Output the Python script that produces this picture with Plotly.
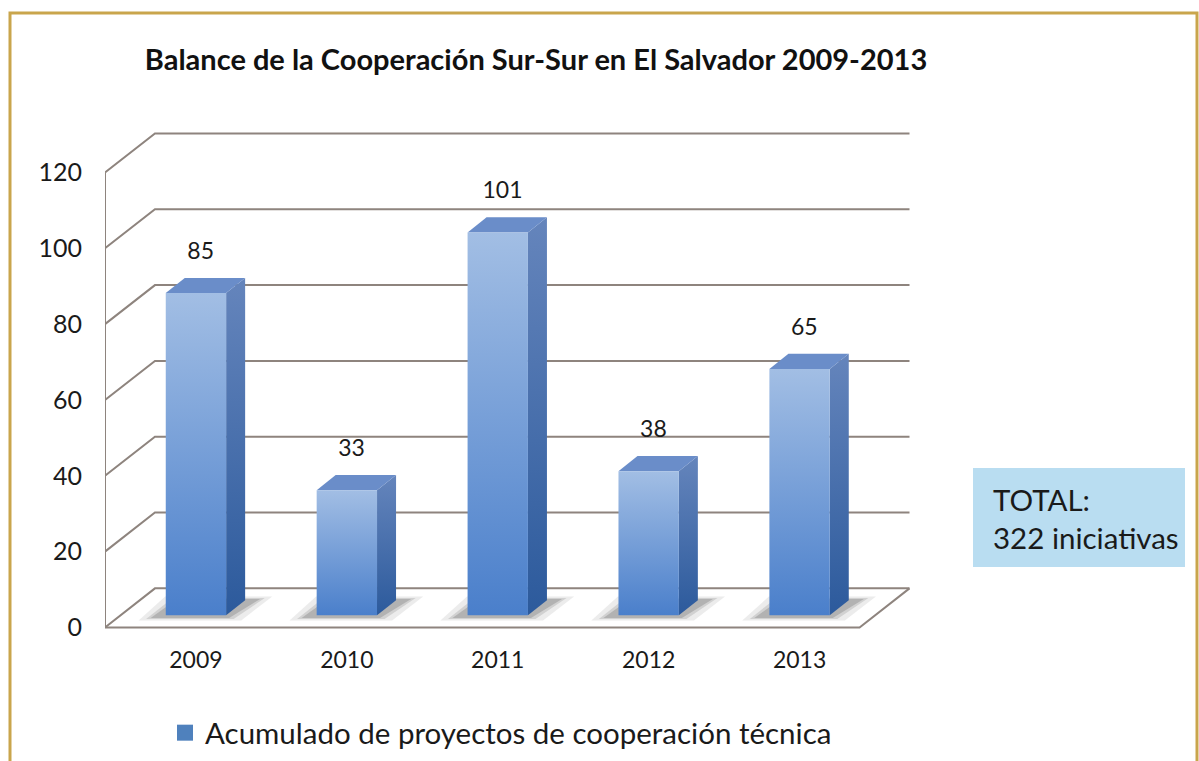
import plotly.graph_objects as go

# ---------------- data ----------------
years = ["2009", "2010", "2011", "2012", "2013"]
values = [85, 33, 101, 38, 65]
y_ticks = [0, 20, 40, 60, 80, 100, 120]
title_text = "Balance de la Cooperación Sur-Sur en El Salvador 2009-2013"
series_name = "Acumulado de proyectos de cooperación técnica"
total_lines = ["TOTAL:", "322 iniciativas"]

# ---------------- pseudo-3D geometry (axis units) ----------------
DX, DY = 0.331, 10.3      # depth of floor / walls
FB = 0.31                 # depth fraction at which bar front faces sit
BW = 0.40                 # bar width (category units)
BDX, BDY = 0.126, 4.0     # bar depth
X0, X1 = -0.5, len(years) - 0.5
YMAX = y_ticks[-1]

FONT = "Lato"
GRID = "#8E847E"

fig = go.Figure()

# walls / floor grid
gx, gy = [], []
for v in y_ticks:
    gx += [X0, X0 + DX, X1 + DX, None]
    gy += [v, v + DY, v + DY, None]
gx += [X0, X0, None, X0, X1, X1 + DX, None]
gy += [0, YMAX, None, 0, 0, DY, None]
fig.add_trace(go.Scatter(x=gx, y=gy, mode="lines", line=dict(color=GRID, width=2),
                         hoverinfo="skip", showlegend=False))

yb = FB * DY
for i, v in enumerate(values):
    xc = i + FB * DX
    xl, xr = xc - BW / 2, xc + BW / 2
    # soft floor shadow
    for grow, alpha in [(0.08, 0.10), (0.03, 0.16), (0.0, 0.22)]:
        fig.add_trace(go.Scatter(
            x=[xl - 0.10 - grow, xr + 0.02 + grow, xr + BDX + 0.10 + grow, xl + BDX - 0.05 - grow, xl - 0.10 - grow],
            y=[yb - 0.7 - grow * 8, yb - 0.7 - grow * 8, yb + BDY + 0.3 + grow * 8, yb + BDY + 0.3 + grow * 8, yb - 0.7 - grow * 8],
            fill="toself", fillcolor=f"rgba(70,70,70,{alpha})", line=dict(width=0),
            mode="lines", hoverinfo="skip", showlegend=False))
    # side face
    fig.add_trace(go.Scatter(
        x=[xr, xr + BDX, xr + BDX, xr, xr],
        y=[yb, yb + BDY, yb + v + BDY, yb + v, yb],
        fill="toself", mode="lines", line=dict(width=0),
        fillgradient=dict(type="vertical", colorscale=[[0, "#2C5A9C"], [1, "#6585BC"]]),
        hoverinfo="skip", showlegend=False))
    # top face
    fig.add_trace(go.Scatter(
        x=[xl, xl + BDX, xr + BDX, xr, xl],
        y=[yb + v, yb + v + BDY, yb + v + BDY, yb + v, yb + v],
        fill="toself", mode="lines", line=dict(width=0), fillcolor="#6A8DC9",
        hoverinfo="skip", showlegend=False))
    # front face
    fig.add_trace(go.Scatter(
        x=[xl, xr, xr, xl, xl],
        y=[yb, yb, yb + v, yb + v, yb],
        fill="toself", mode="lines", line=dict(width=0),
        fillgradient=dict(type="vertical", colorscale=[[0, "#4A7FCB"], [1, "#A2BEE4"]]),
        hovertext=f"{years[i]}: {v}", hoverinfo="text", showlegend=False))

# value labels
fig.add_trace(go.Scatter(
    x=[i + FB * DX + BDX / 4 for i in range(len(values))],
    y=[yb + v + BDY + 6.5 for v in values],
    text=[str(v) for v in values], mode="text",
    textfont=dict(family=FONT, size=23, color="#1a1a1a"),
    hoverinfo="skip", showlegend=False))

# legend entry
fig.add_trace(go.Scatter(x=[None], y=[None], mode="markers", name=series_name,
                         marker=dict(symbol="square", size=19, color="#4F81BD")))

W, H = 1199, 761
PLOT_W, PLOT_H = 830, 508
L, T = 105, 127
def px(xp): return (xp - L) / PLOT_W
def py(yp): return (T + PLOT_H - yp) / PLOT_H

fig.update_layout(
    width=W, height=H,
    margin=dict(l=L, r=W - L - PLOT_W, t=T, b=H - T - PLOT_H, autoexpand=False),
    paper_bgcolor="white", plot_bgcolor="white",
    font=dict(family=FONT, color="#1a1a1a"),
    title=dict(text=title_text, x=px(536), xref="paper", xanchor="center",
               y=1 - 60 / H, yanchor="middle",
               font=dict(family=FONT, size=29, color="#111111", weight="bold")),
    xaxis=dict(range=[X0, X1 + 0.5], showgrid=False, zeroline=False, showline=False,
               tickvals=[i + FB * DX for i in range(len(years))], ticktext=years,
               ticks="", tickfont=dict(size=23, family=FONT, color="#1a1a1a"),
               ticklabelstandoff=9, fixedrange=True),
    yaxis=dict(range=[-2, 132], showgrid=False, zeroline=False, showline=False,
               tickvals=y_ticks, ticks="", tickfont=dict(size=25, family=FONT, color="#1a1a1a"),
               ticklabelstandoff=22, fixedrange=True),
    legend=dict(orientation="h", xref="container", yref="container",
                x=165 / W, xanchor="left", y=1 - 733 / H, yanchor="middle",
                font=dict(size=29.5, family=FONT, color="#1a1a1a"), bgcolor="rgba(0,0,0,0)"),
    shapes=[
        dict(type="rect", xref="paper", yref="paper", x0=px(10), x1=px(1197), y0=py(13), y1=py(800),
             line=dict(color="#C9A54C", width=3), fillcolor="rgba(0,0,0,0)", layer="below"),
        dict(type="rect", xref="paper", yref="paper", x0=px(973), x1=px(1185), y0=py(567), y1=py(468),
             line=dict(width=0), fillcolor="#B9DDF1", layer="below"),
    ],
    annotations=[
        dict(xref="paper", yref="paper", x=px(991), y=py(518), xanchor="left", yanchor="middle",
             text="<br>".join(total_lines), align="left", showarrow=False,
             font=dict(family=FONT, size=29.5, color="#1a1a1a")),
    ],
)

fig.write_html("out.html")
